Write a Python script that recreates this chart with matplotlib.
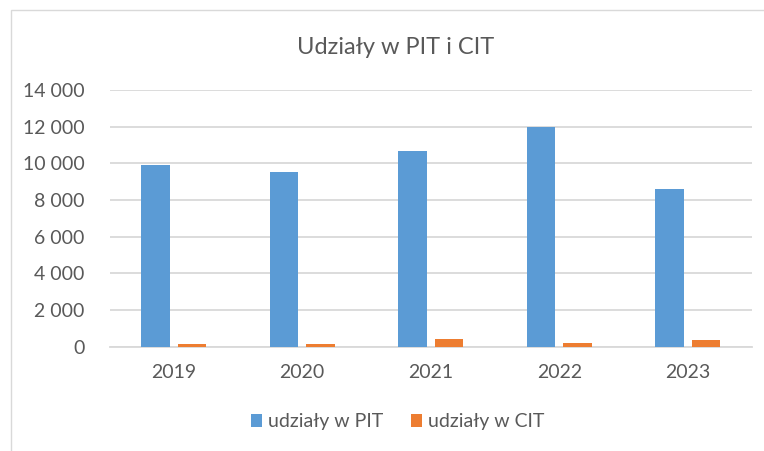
import matplotlib
matplotlib.use("Agg")
import matplotlib.pyplot as plt
import matplotlib.patches as mpatches
from matplotlib.ticker import FuncFormatter, MultipleLocator
import numpy as np

plt.rcParams['font.family'] = ['Lato', 'DejaVu Sans']

years = ["2019", "2020", "2021", "2022", "2023"]
pit = [9900, 9510, 10690, 12000, 8580]
cit = [160, 170, 440, 180, 350]
series_names = ["udziały w PIT", "udziały w CIT"]
title = "Udziały w PIT i CIT"

W, H = 764, 451
fig = plt.figure(figsize=(W / 100, H / 100), dpi=100)
fig.patch.set_facecolor("white")

# chart border
border = mpatches.Rectangle((11 / W, -0.1), 1.2, 1 - 10 / H + 0.1,
                            transform=fig.transFigure, fill=False,
                            edgecolor="#D9D9D9", lw=1.0, zorder=0)
fig.patches.append(border)

left, right = 109.5 / W, 752 / W
top, bottom = 1 - 90 / H, 1 - 346.7 / H
ax = fig.add_axes([left, bottom, right - left, top - bottom])

x = np.arange(len(years))
bw = 0.222
off = 0.142
b1 = ax.bar(x - off, pit, width=bw, color="#5B9BD5", zorder=3, label=series_names[0])
b2 = ax.bar(x + off, cit, width=bw, color="#ED7D31", zorder=3, label=series_names[1])

ax.set_xlim(-0.5, len(years) - 0.5)
ax.set_ylim(0, 14000)
ax.yaxis.set_major_locator(MultipleLocator(2000))
ax.yaxis.set_major_formatter(FuncFormatter(lambda v, p: f"{int(v):,}".replace(",", " ")))
ax.set_xticks(x)
ax.set_xticklabels(years)

ax.grid(axis="y", color="#D9D9D9", lw=1.3, zorder=0)
ax.set_axisbelow(True)
for s in ["top", "right", "left"]:
    ax.spines[s].set_visible(False)
ax.spines["bottom"].set_color("#D9D9D9")
ax.spines["bottom"].set_linewidth(1.3)
ax.tick_params(axis="both", length=0, labelsize=14, labelcolor="#595959")
ax.tick_params(axis="y", pad=18)
ax.tick_params(axis="x", pad=12.5)

fig.text(395.3 / W, 1 - 54.3 / H, title, ha="center", va="baseline",
         fontsize=17, color="#595959")

fig.legend(handles=[b1, b2], labels=series_names, loc="center",
           bbox_to_anchor=(397.5 / W, 1 - 421.7 / H), ncol=2, frameon=False,
           fontsize=14, labelcolor="#595959", handlelength=0.6,
           handleheight=0.6, handletextpad=0.3, columnspacing=1.4)

fig.savefig("out.png", dpi=100, facecolor="white")
